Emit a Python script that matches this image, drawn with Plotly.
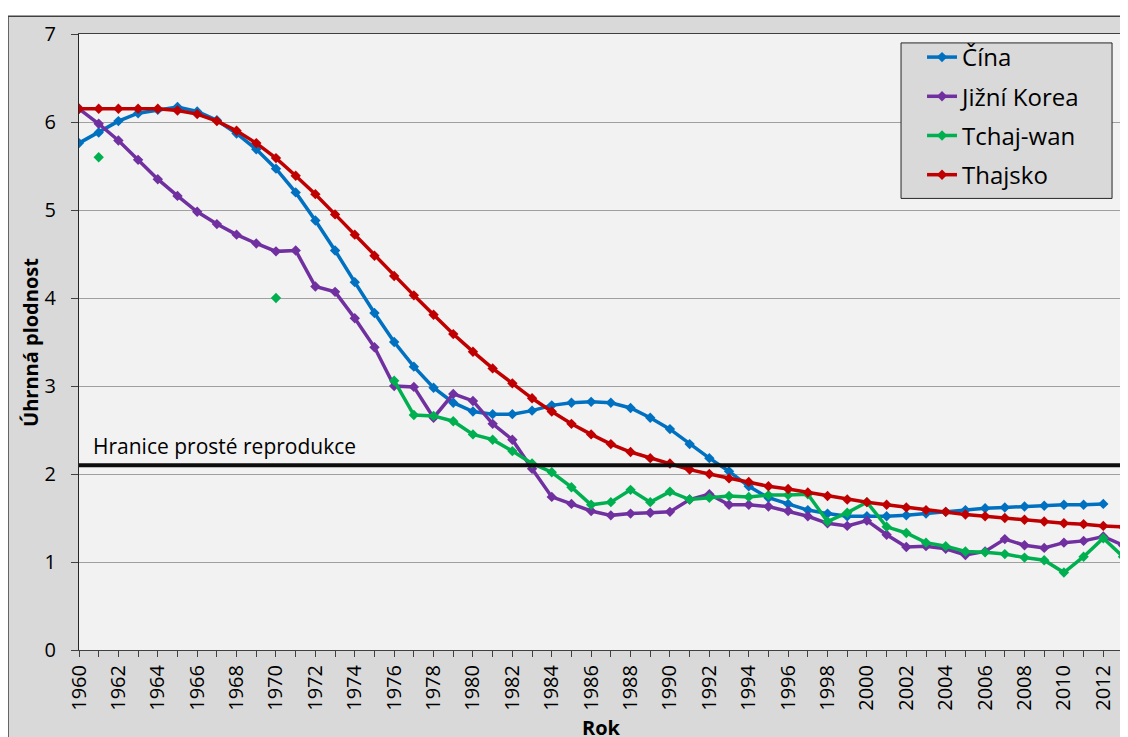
import plotly.graph_objects as go

years = list(range(1960, 2014))

cina = [5.76, 5.88, 6.01, 6.10, 6.14, 6.17, 6.12, 6.02, 5.87, 5.69,
        5.47, 5.20, 4.88, 4.54, 4.18, 3.83, 3.50, 3.22, 2.98, 2.81,
        2.71, 2.68, 2.68, 2.72, 2.78, 2.81, 2.82, 2.81, 2.75, 2.64,
        2.51, 2.34, 2.18, 2.03, 1.86, 1.73, 1.66, 1.59, 1.55, 1.52,
        1.52, 1.52, 1.53, 1.55, 1.57, 1.59, 1.61, 1.62, 1.63, 1.64,
        1.65, 1.65, 1.66, None]

korea = [6.15, 5.98, 5.79, 5.57, 5.35, 5.16, 4.98, 4.84, 4.72, 4.62,
         4.53, 4.54, 4.13, 4.07, 3.77, 3.44, 3.00, 2.99, 2.64, 2.91,
         2.83, 2.57, 2.39, 2.06, 1.74, 1.66, 1.58, 1.53, 1.55, 1.56,
         1.57, 1.71, 1.77, 1.65, 1.65, 1.63, 1.58, 1.52, 1.44, 1.41,
         1.47, 1.31, 1.17, 1.18, 1.15, 1.08, 1.12, 1.26, 1.19, 1.16,
         1.22, 1.24, 1.29, 1.19]

tchajwan = [None, 5.60, None, None, None, None, None, None, None, None,
            4.00, None, None, None, None, None, 3.06, 2.67, 2.66, 2.60,
            2.45, 2.39, 2.26, 2.12, 2.02, 1.85, 1.65, 1.68, 1.82, 1.68,
            1.80, 1.71, 1.73, 1.75, 1.74, 1.76, 1.76, 1.77, 1.46, 1.56,
            1.68, 1.40, 1.33, 1.22, 1.18, 1.12, 1.11, 1.09, 1.05, 1.02,
            0.88, 1.06, 1.27, 1.06]

thajsko = [6.15, 6.15, 6.15, 6.15, 6.15, 6.13, 6.09, 6.01, 5.90, 5.76,
           5.59, 5.39, 5.18, 4.95, 4.72, 4.48, 4.25, 4.03, 3.81, 3.59,
           3.39, 3.20, 3.03, 2.86, 2.71, 2.57, 2.45, 2.34, 2.25, 2.18,
           2.12, 2.05, 2.00, 1.95, 1.91, 1.86, 1.83, 1.79, 1.75, 1.71,
           1.68, 1.65, 1.62, 1.59, 1.57, 1.54, 1.52, 1.50, 1.48, 1.46,
           1.44, 1.43, 1.41, 1.40]

hranice = 2.1

SERIES = [("Čína", cina, "#0070C0"),
          ("Jižní Korea", korea, "#7030A0"),
          ("Tchaj-wan", tchajwan, "#00B050"),
          ("Thajsko", thajsko, "#C00000")]

FONT = "Open Sans"

fig = go.Figure()
for i, (name, vals, color) in enumerate(SERIES):
    fig.add_trace(go.Scatter(
        x=years, y=vals, name=name, mode="lines+markers",
        line=dict(color=color, width=3.5),
        marker=dict(symbol="diamond", size=8, color=color),
        legendgroup=str(i), connectgaps=False))

# hranice prosté reprodukce
fig.add_shape(type="line", xref="paper", x0=0, x1=1, yref="y", y0=hranice, y1=hranice,
              line=dict(color="#0d0d0d", width=4))
fig.add_annotation(x=years[0] + 0.6, y=hranice, xref="x", yref="y",
                   text="Hranice prosté reprodukce", showarrow=False,
                   xanchor="left", yanchor="bottom", yshift=3,
                   font=dict(family=FONT, size=21, color="#000000"))

# axis titles
fig.add_annotation(x=0.5, y=-0.125, xref="paper", yref="paper", text="<b>Rok</b>",
                   showarrow=False, xanchor="center", yanchor="middle",
                   font=dict(family=FONT, size=20, color="#000000"))
fig.add_annotation(x=-0.047, y=0.5, xref="paper", yref="paper",
                   text="<b>Úhrnná plodnost</b>", textangle=-90, showarrow=False,
                   xanchor="center", yanchor="middle",
                   font=dict(family=FONT, size=20, color="#000000"))

# white strip along the top and the chart area border
fig.add_shape(type="rect", xref="paper", yref="paper", x0=-0.1, x1=1.1, y0=1.0289, y1=1.1,
              fillcolor="white", line=dict(width=0), layer="below")
fig.add_shape(type="line", xref="paper", yref="paper", x0=-0.068, x1=1.1, y0=1.0289, y1=1.0289,
              line=dict(color="#404040", width=1.5))
fig.add_shape(type="line", xref="paper", yref="paper", x0=-0.068, x1=-0.068, y0=-0.2, y1=1.0289,
              line=dict(color="#404040", width=1.5))

# legend box (drawn as a shape so its padding matches)
fig.add_shape(type="rect", xref="paper", yref="paper", x0=0.7874, x1=0.9895, y0=0.7331, y1=0.9855,
              fillcolor="#D9D9D9", line=dict(color="#262626", width=1), layer="above")

fig.update_layout(
    width=1128, height=737,
    margin=dict(l=71, r=13, t=20, b=95),
    paper_bgcolor="#D9D9D9", plot_bgcolor="#F2F2F2",
    font=dict(family=FONT, size=20, color="#000000"),
    showlegend=True,
    legend=dict(x=0.8075, y=0.9984, xanchor="left", yanchor="top",
                bgcolor="rgba(0,0,0,0)", borderwidth=0,
                font=dict(family=FONT, size=24, color="#000000"),
                traceorder="grouped", tracegroupgap=5, itemwidth=30),
    xaxis=dict(range=[years[0], years[-1]],
               tickvals=years,
               ticktext=[str(y) if y % 2 == 0 else "" for y in years],
               tickangle=-90, ticks="outside", ticklen=6, tickcolor="#404040",
               showgrid=False, zeroline=False,
               showline=True, linecolor="#404040", linewidth=1, mirror=True,
               tickfont=dict(family=FONT, size=20, color="#000000")),
    yaxis=dict(range=[0, 7], dtick=1, ticks="outside", ticklen=7, tickcolor="#404040",
               ticklabelstandoff=11,
               showgrid=True, gridcolor="#A0A0A0", gridwidth=1, zeroline=False,
               showline=True, linecolor="#262626", linewidth=1, mirror=True,
               tickfont=dict(family=FONT, size=20, color="#000000")),
)

fig.write_html("out.html")
